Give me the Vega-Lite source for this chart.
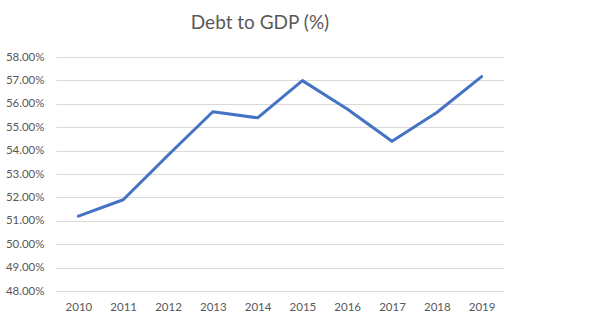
{
  "$schema": "https://vega.github.io/schema/vega-lite/v6.json",
  "autosize": "none",
  "width": 448,
  "height": 234,
  "padding": {"left": 56, "top": 57, "right": 90, "bottom": 34},
  "background": "white",
  "config": {
    "view": {"stroke": null},
    "font": "Lato"
  },
  "title": {
    "text": "Debt to GDP (%)",
    "fontSize": 19,
    "font": "Lato",
    "fontWeight": "normal",
    "color": "#595959",
    "anchor": "middle",
    "dx": -20,
    "offset": 18
  },
  "data": {
    "values": [
      {"year": "2010", "debt": 0.512},
      {"year": "2011", "debt": 0.519},
      {"year": "2012", "debt": 0.538},
      {"year": "2013", "debt": 0.5566},
      {"year": "2014", "debt": 0.554},
      {"year": "2015", "debt": 0.5699},
      {"year": "2016", "debt": 0.5578},
      {"year": "2017", "debt": 0.544},
      {"year": "2018", "debt": 0.5563},
      {"year": "2019", "debt": 0.5716}
    ]
  },
  "mark": {"type": "line", "color": "#4472C4", "strokeWidth": 3, "strokeCap": "round", "strokeJoin": "round"},
  "encoding": {
    "x": {
      "field": "year",
      "type": "ordinal",
      "scale": {"padding": 0.5},
      "axis": {
        "title": null,
        "labelAngle": 0,
        "domain": false,
        "ticks": false,
        "labelPadding": 10,
        "labelFontSize": 11.5,
        "labelColor": "#595959",
        "grid": false
      }
    },
    "y": {
      "field": "debt",
      "type": "quantitative",
      "scale": {"domain": [0.48, 0.58], "nice": false, "zero": false},
      "axis": {
        "title": null,
        "format": ".2%",
        "values": [0.48, 0.49, 0.5, 0.51, 0.52, 0.53, 0.54, 0.55, 0.56, 0.57, 0.58],
        "domain": false,
        "ticks": false,
        "labelPadding": 12,
        "labelFontSize": 11.5,
        "labelColor": "#595959",
        "grid": true,
        "gridColor": "#D9D9D9",
        "gridWidth": 1
      }
    }
  }
}
